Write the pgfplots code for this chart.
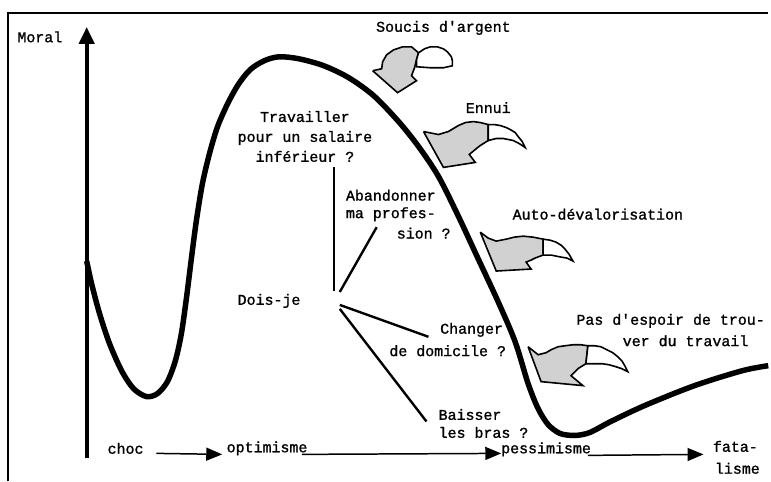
\documentclass[border=0pt]{standalone}
\usepackage{pgfplots}
\pgfplotsset{compat=1.18}
\usepackage{fontspec}
\setmainfont{Liberation Mono}[Ligatures=TeXOff, BoldFont={Liberation Mono}, BoldFeatures={FakeBold=1.2}]
\usetikzlibrary{arrows.meta}
\begin{document}
\begin{tikzpicture}[lab/.style={font=\fontsize{15}{20}\selectfont\bfseries, inner sep=0pt}]
\begin{axis}[
  scale only axis, width=771pt, height=483pt,
  xmin=0, xmax=771, ymin=0, ymax=483, y dir=reverse,
  hide axis, clip=false,
]
\path (axis cs:0,0) rectangle (axis cs:771,483);
% frame
\addplot[black, line width=1.4pt] coordinates {(8,483) (8,13) (771,13)};
% vertical axis
\addplot[black, line width=4pt, -{Triangle[length=17pt,width=15pt]}] coordinates {(87,460) (87,27)};
% main curve
\addplot[black, line width=5.5pt, smooth] coordinates {
(87,262) (92,285) (100,315) (110,345) (122,372) (134,390) (147,398) (158,395)
(168,383) (176,362) (182,335) (187,300) (192,260) (197,222) (203,185) (210,155)
(218,128) (228,105) (239,85) (251,70) (265,61) (280,57) (300,59) (325,66)
(350,78) (375,96) (400,122) (420,147) (440,177) (460,217) (480,260) (500,303)
(517,343) (530,385) (540,410) (550,426) (562,435) (577,437) (592,434) (613,423)
(647,407) (697,387) (745,372) (771,367)};
% decision lines
\addplot[black, line width=2.4pt] coordinates {(335,168) (335,292)};
\addplot[black, line width=2.4pt] coordinates {(341,293) (378,228)};
\addplot[black, line width=2.4pt] coordinates {(341,306) (430,338)};
\addplot[black, line width=2.4pt] coordinates {(341,310) (428,423)};
% timeline arrows
\addplot[black, line width=1.5pt, -{Triangle[length=16pt,width=13pt]}] coordinates {(157,455) (223,456)};
\addplot[black, line width=1.5pt, -{Triangle[length=16pt,width=13pt]}] coordinates {(303,456) (503,455)};
\addplot[black, line width=1.5pt, -{Triangle[length=16pt,width=13pt]}] coordinates {(590,457) (706,456)};
% stippled arrows
\addplot[draw=black, line width=1.6pt, fill=black!18] coordinates {
(374,71) (399,93) (418,81) (413,76) (416,68) (418,60) (420,53) (413,47) (404,47) (395,50) (388,55) (384,62) (383,69) (374,71)};
\addplot[draw=black, line width=1.6pt, fill=white] coordinates {
(420,53) (426,49) (432,47) (439,47) (445,49) (449,52) (453,57) (454,61) (454,66) (445,68) (432,68) (418,67) (418,60) (420,53)};
\addplot[draw=black, line width=1.6pt, fill=black!18] coordinates {
(425,132) (445,168) (477,163) (471,155) (477,150) (482,146) (490,141) (490,125) (482,123) (475,122) (467,123) (460,126) (450,132) (440,135) (425,132)};
\addplot[draw=black, line width=1.6pt, fill=white] coordinates {
(490,125) (496,125) (502,126) (508,128) (512,130) (517,133) (520,137) (524,142) (527,148) (521,144) (515,141) (505,139) (498,139) (490,141) (490,125)};
\addplot[draw=black, line width=1.6pt, fill=black!18] coordinates {
(482,233) (498,272) (533,270) (528,263) (533,261) (537,259) (545,256) (545,240) (535,238) (525,237) (516,238) (508,240) (498,242) (490,239) (482,233)};
\addplot[draw=black, line width=1.6pt, fill=white] coordinates {
(545,240) (552,241) (558,243) (563,246) (567,250) (571,255) (575,262) (569,259) (563,258) (553,256) (545,256) (545,240)};
\addplot[draw=black, line width=1.6pt, fill=black!18] coordinates {
(530,348) (543,383) (585,387) (573,377) (577,373) (580,370) (588,365) (590,347) (583,346) (575,346) (567,347) (560,348) (553,351) (548,354) (540,356) (530,348)};
\addplot[draw=black, line width=1.6pt, fill=white] coordinates {
(590,347) (597,347) (603,348) (609,351) (615,354) (620,358) (624,362) (627,367) (630,373) (624,370) (618,368) (611,366) (604,365) (596,365) (588,365) (590,347)};
% labels
\node[lab] at (axis cs:40,37) {Moral};
\node[lab] at (axis cs:445,28) {Soucis d'argent};
\node[lab, align=center] at (axis cs:306,137) {Travailler\\pour un salaire\\inférieur ?};
\node[lab] at (axis cs:490,108) {Ennui};
\node[lab, anchor=west] at (axis cs:347,196) {Abandonner};
\node[lab, anchor=west] at (axis cs:347,215) {ma profes-};
\node[lab, anchor=west] at (axis cs:398,234) {sion ?};
\node[lab] at (axis cs:600,215) {Auto-dévalorisation};
\node[lab] at (axis cs:270,302) {Dois-je};
\node[lab, anchor=east] at (axis cs:505,331) {Changer};
\node[lab, anchor=east] at (axis cs:508,352) {de domicile ?};
\node[lab, anchor=west] at (axis cs:440,416) {Baisser};
\node[lab, anchor=west] at (axis cs:440,434) {les bras ?};
\node[lab] at (axis cs:548,451) {pessimisme};
\node[lab] at (axis cs:673,322) {Pas d'espoir de trou-};
\node[lab] at (axis cs:688,342) {ver du travail};
\node[lab] at (axis cs:126,450) {choc};
\node[lab] at (axis cs:268,450) {optimisme};
\node[lab] at (axis cs:738,448) {fata-};
\node[lab] at (axis cs:740,470) {lisme};
\end{axis}
\end{tikzpicture}
\end{document}
